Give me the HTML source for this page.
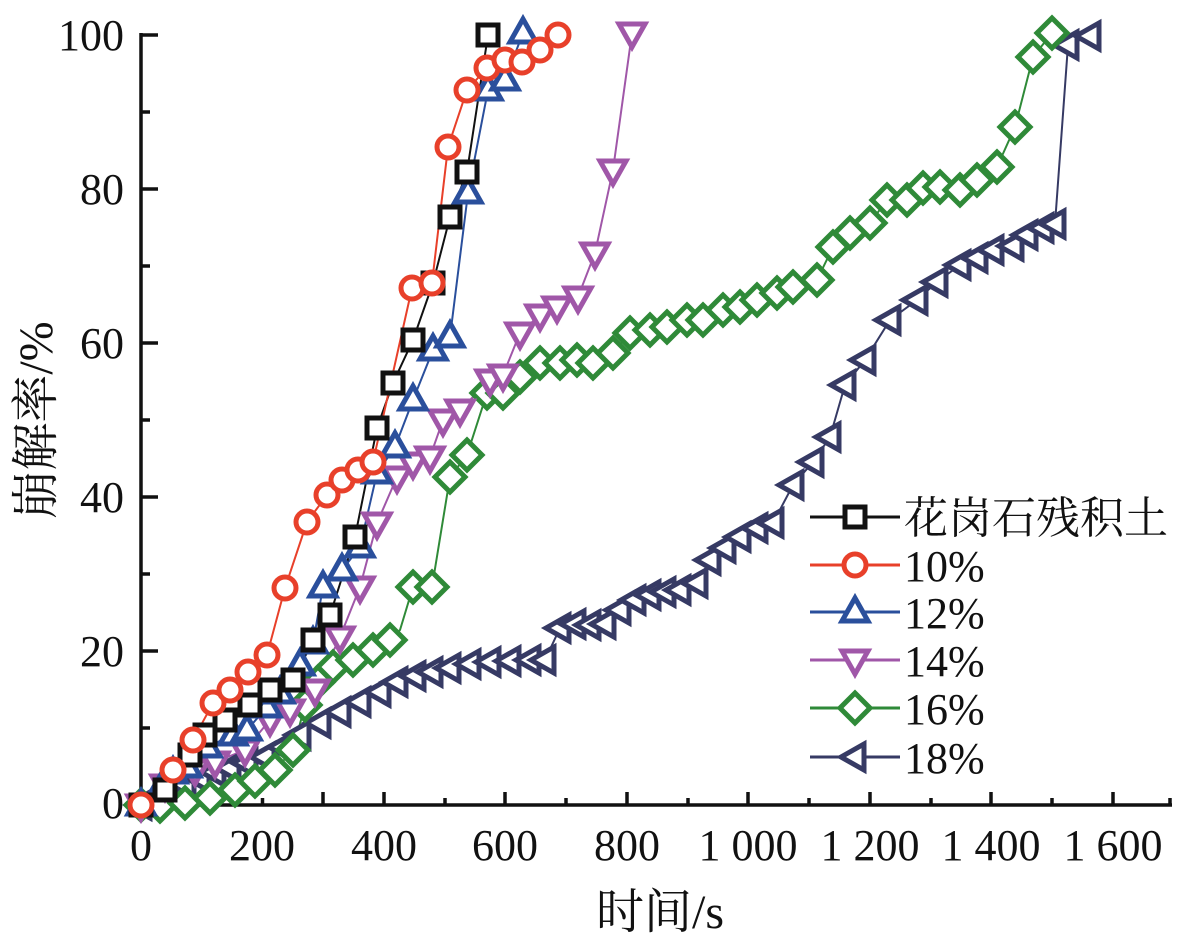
<!DOCTYPE html>
<html><head><meta charset="utf-8"><style>
html,body{margin:0;padding:0;background:#fff;}
svg{display:block;}
text{font-family:"Liberation Serif","Noto Serif CJK SC",serif;fill:#111;}
</style></head><body>
<svg width="1186" height="946" viewBox="0 0 1186 946" xmlns="http://www.w3.org/2000/svg">
<defs>
<g id="sq"><rect x="-10" y="-10" width="20" height="20" fill="#fff" stroke="#111" stroke-width="5"/></g>
<g id="ci"><circle r="11" fill="#fff" stroke="#e8402a" stroke-width="5"/></g>
<g id="tu"><polygon points="0,-14 13,9 -13,9" fill="#fff" stroke="#2a4f9c" stroke-width="5"/></g>
<g id="td"><polygon points="0,14 13,-9 -13,-9" fill="#fff" stroke="#a057a8" stroke-width="5"/></g>
<g id="di"><polygon points="0,-15 15,0 0,15 -15,0" fill="#fff" stroke="#2f8a38" stroke-width="5"/></g>
<g id="tl"><polygon points="-14,0 9,-13 9,13" fill="#fff" stroke="#363a64" stroke-width="5"/></g>
</defs>
<g stroke="#111" stroke-width="3.5" fill="none">
<line x1="141" y1="33" x2="141" y2="807"/>
<line x1="139" y1="805" x2="1172" y2="805"/>
<line x1="141" y1="35" x2="158" y2="35"/>
<line x1="141" y1="112" x2="150" y2="112"/>
<line x1="141" y1="189" x2="158" y2="189"/>
<line x1="141" y1="266" x2="150" y2="266"/>
<line x1="141" y1="343" x2="158" y2="343"/>
<line x1="141" y1="420" x2="150" y2="420"/>
<line x1="141" y1="497" x2="158" y2="497"/>
<line x1="141" y1="574" x2="150" y2="574"/>
<line x1="141" y1="651" x2="158" y2="651"/>
<line x1="141" y1="728" x2="150" y2="728"/>
<line x1="262.5" y1="805" x2="262.5" y2="798"/>
<line x1="384" y1="805" x2="384" y2="792"/>
<line x1="445" y1="805" x2="445" y2="798"/>
<line x1="505" y1="805" x2="505" y2="792"/>
<line x1="566" y1="805" x2="566" y2="798"/>
<line x1="627" y1="805" x2="627" y2="792"/>
<line x1="688" y1="805" x2="688" y2="798"/>
<line x1="748" y1="805" x2="748" y2="792"/>
<line x1="809" y1="805" x2="809" y2="798"/>
<line x1="870" y1="805" x2="870" y2="792"/>
<line x1="931" y1="805" x2="931" y2="798"/>
<line x1="991" y1="805" x2="991" y2="792"/>
<line x1="1052" y1="805" x2="1052" y2="798"/>
<line x1="1113" y1="805" x2="1113" y2="792"/>
<line x1="1170" y1="805" x2="1170" y2="798"/>
<line x1="202" y1="805" x2="202" y2="798"/>
<line x1="323" y1="805" x2="323" y2="792"/>
</g>
<g font-size="44" text-anchor="end">
<text x="124" y="50">100</text>
<text x="124" y="204">80</text>
<text x="124" y="358">60</text>
<text x="124" y="512">40</text>
<text x="124" y="666">20</text>
<text x="124" y="818">0</text>
</g>
<g font-size="44" text-anchor="middle">
<text x="141" y="860">0</text>
<text x="262" y="860">200</text>
<text x="384" y="860">400</text>
<text x="505" y="860">600</text>
<text x="627" y="860">800</text>
<text x="748" y="860">1 000</text>
<text x="870" y="860">1 200</text>
<text x="991" y="860">1 400</text>
<text x="1113" y="860">1 600</text>
</g>
<text x="660" y="928" font-size="48" text-anchor="middle">时间/s</text>
<text transform="translate(52,420) rotate(-90)" font-size="48" text-anchor="middle">崩解率/%</text>

<g fill="none" stroke-width="2">
<polyline stroke="#363a64" points="141,805 155,798 170,790 185,785 200,778 215,772 230,768 247,763 265,757 283,747 300,735 320,723 340,712 360,702 380,692 397,682 415,676 432,672 450,668 470,664 490,662 510,661 530,660 545,660 560,628 575,624 590,625 605,624 620,610 635,600 650,595 665,592 680,590 697,583 710,560 725,548 740,537 757,528 773,523 793,485 813,462 830,437 845,385 865,360 890,320 917,300 937,282 960,265 977,258 993,250 1013,246 1027,235 1043,228 1055,224 1068,45 1090,36"/>
<polyline stroke="#2f8a38" points="141,805 160,806 185,803 210,798 235,790 255,781 275,770 293,750 305,705 318,682 333,667 353,660 373,650 390,640 400,630 413,587 432,587 450,477 467,455 487,393 503,393 520,377 540,363 560,363 577,360 593,363 613,353 630,333 650,330 667,327 687,320 703,320 723,310 740,307 757,300 777,293 793,287 817,280 833,247 850,233 870,223 887,200 907,200 923,188 940,187 960,190 977,180 997,167 1015,127 1033,57 1052,33"/>
<polyline stroke="#a057a8" points="141,805 165,785 195,770 215,762 245,750 270,720 290,710 315,690 340,637 360,587 377,523 397,477 413,463 430,457 443,420 460,410 490,380 503,375 520,333 540,315 557,307 578,297 595,253 613,170 632,33"/>
<polyline stroke="#2a4f9c" points="141,805 160,790 173,773 187,767 207,747 233,735 247,730 267,707 280,693 300,665 313,643 323,587 342,570 360,547 377,473 395,447 413,400 433,350 450,337 468,193 488,90 505,80 523,33"/>
<polyline stroke="#111" points="141,805 165,790 190,755 205,735 225,720 250,705 270,690 293,680 313,640 330,615 355,537 377,428 393,383 413,340 433,283 450,217 467,172 488,35"/>
<polyline stroke="#e8402a" points="141,805 173,770 193,740 213,703 230,690 248,672 267,655 285,588 307,522 327,495 342,480 358,470 373,462 412,288 432,283 448,147 467,90 487,68 505,60 522,62 540,50 558,35"/>
</g>

<g>
<use href="#tl" x="141" y="805"/><use href="#tl" x="155" y="798"/><use href="#tl" x="170" y="790"/><use href="#tl" x="185" y="785"/><use href="#tl" x="200" y="778"/><use href="#tl" x="215" y="772"/><use href="#tl" x="230" y="768"/><use href="#tl" x="247" y="763"/><use href="#tl" x="265" y="757"/><use href="#tl" x="283" y="747"/><use href="#tl" x="300" y="735"/><use href="#tl" x="320" y="723"/><use href="#tl" x="340" y="712"/><use href="#tl" x="360" y="702"/><use href="#tl" x="380" y="692"/><use href="#tl" x="397" y="682"/><use href="#tl" x="415" y="676"/><use href="#tl" x="432" y="672"/><use href="#tl" x="450" y="668"/><use href="#tl" x="470" y="664"/><use href="#tl" x="490" y="662"/><use href="#tl" x="510" y="661"/><use href="#tl" x="530" y="660"/><use href="#tl" x="545" y="660"/><use href="#tl" x="560" y="628"/><use href="#tl" x="575" y="624"/><use href="#tl" x="590" y="625"/><use href="#tl" x="605" y="624"/><use href="#tl" x="620" y="610"/><use href="#tl" x="635" y="600"/><use href="#tl" x="650" y="595"/><use href="#tl" x="665" y="592"/><use href="#tl" x="680" y="590"/><use href="#tl" x="697" y="583"/><use href="#tl" x="710" y="560"/><use href="#tl" x="725" y="548"/><use href="#tl" x="740" y="537"/><use href="#tl" x="757" y="528"/><use href="#tl" x="773" y="523"/><use href="#tl" x="793" y="485"/><use href="#tl" x="813" y="462"/><use href="#tl" x="830" y="437"/><use href="#tl" x="845" y="385"/><use href="#tl" x="865" y="360"/><use href="#tl" x="890" y="320"/><use href="#tl" x="917" y="300"/><use href="#tl" x="937" y="282"/><use href="#tl" x="960" y="265"/><use href="#tl" x="977" y="258"/><use href="#tl" x="993" y="250"/><use href="#tl" x="1013" y="246"/><use href="#tl" x="1027" y="235"/><use href="#tl" x="1043" y="228"/><use href="#tl" x="1055" y="224"/><use href="#tl" x="1068" y="45"/><use href="#tl" x="1090" y="36"/>
</g>
<g>
<use href="#di" x="141" y="805"/><use href="#di" x="160" y="806"/><use href="#di" x="185" y="803"/><use href="#di" x="210" y="798"/><use href="#di" x="235" y="790"/><use href="#di" x="255" y="781"/><use href="#di" x="275" y="770"/><use href="#di" x="293" y="750"/><use href="#di" x="305" y="705"/><use href="#di" x="318" y="682"/><use href="#di" x="333" y="667"/><use href="#di" x="353" y="660"/><use href="#di" x="373" y="650"/><use href="#di" x="390" y="640"/><use href="#di" x="413" y="587"/><use href="#di" x="432" y="587"/><use href="#di" x="450" y="477"/><use href="#di" x="467" y="455"/><use href="#di" x="487" y="393"/><use href="#di" x="503" y="393"/><use href="#di" x="520" y="377"/><use href="#di" x="540" y="363"/><use href="#di" x="560" y="363"/><use href="#di" x="577" y="360"/><use href="#di" x="593" y="363"/><use href="#di" x="613" y="353"/><use href="#di" x="630" y="333"/><use href="#di" x="650" y="330"/><use href="#di" x="667" y="327"/><use href="#di" x="687" y="320"/><use href="#di" x="703" y="320"/><use href="#di" x="723" y="310"/><use href="#di" x="740" y="307"/><use href="#di" x="757" y="300"/><use href="#di" x="777" y="293"/><use href="#di" x="793" y="287"/><use href="#di" x="817" y="280"/><use href="#di" x="833" y="247"/><use href="#di" x="850" y="233"/><use href="#di" x="870" y="223"/><use href="#di" x="887" y="200"/><use href="#di" x="907" y="200"/><use href="#di" x="923" y="188"/><use href="#di" x="940" y="187"/><use href="#di" x="960" y="190"/><use href="#di" x="977" y="180"/><use href="#di" x="997" y="167"/><use href="#di" x="1015" y="127"/><use href="#di" x="1033" y="57"/><use href="#di" x="1052" y="33"/>
</g>
<g>
<use href="#td" x="141" y="805"/><use href="#td" x="165" y="785"/><use href="#td" x="195" y="770"/><use href="#td" x="215" y="762"/><use href="#td" x="245" y="750"/><use href="#td" x="270" y="720"/><use href="#td" x="290" y="710"/><use href="#td" x="315" y="690"/><use href="#td" x="340" y="637"/><use href="#td" x="360" y="587"/><use href="#td" x="377" y="523"/><use href="#td" x="397" y="477"/><use href="#td" x="413" y="463"/><use href="#td" x="430" y="457"/><use href="#td" x="443" y="420"/><use href="#td" x="460" y="410"/><use href="#td" x="490" y="380"/><use href="#td" x="503" y="375"/><use href="#td" x="520" y="333"/><use href="#td" x="540" y="315"/><use href="#td" x="557" y="307"/><use href="#td" x="578" y="297"/><use href="#td" x="595" y="253"/><use href="#td" x="613" y="170"/><use href="#td" x="632" y="33"/>
</g>
<g>
<use href="#tu" x="141" y="805"/><use href="#tu" x="160" y="790"/><use href="#tu" x="173" y="773"/><use href="#tu" x="187" y="767"/><use href="#tu" x="207" y="747"/><use href="#tu" x="233" y="735"/><use href="#tu" x="247" y="730"/><use href="#tu" x="267" y="707"/><use href="#tu" x="280" y="693"/><use href="#tu" x="300" y="665"/><use href="#tu" x="313" y="643"/><use href="#tu" x="323" y="587"/><use href="#tu" x="342" y="570"/><use href="#tu" x="360" y="547"/><use href="#tu" x="377" y="473"/><use href="#tu" x="395" y="447"/><use href="#tu" x="413" y="400"/><use href="#tu" x="433" y="350"/><use href="#tu" x="450" y="337"/><use href="#tu" x="468" y="193"/><use href="#tu" x="488" y="90"/><use href="#tu" x="505" y="80"/><use href="#tu" x="523" y="33"/>
</g>
<g>
<use href="#sq" x="141" y="805"/><use href="#sq" x="165" y="790"/><use href="#sq" x="190" y="755"/><use href="#sq" x="205" y="735"/><use href="#sq" x="225" y="720"/><use href="#sq" x="250" y="705"/><use href="#sq" x="270" y="690"/><use href="#sq" x="293" y="680"/><use href="#sq" x="313" y="640"/><use href="#sq" x="330" y="615"/><use href="#sq" x="355" y="537"/><use href="#sq" x="377" y="428"/><use href="#sq" x="393" y="383"/><use href="#sq" x="413" y="340"/><use href="#sq" x="433" y="283"/><use href="#sq" x="450" y="217"/><use href="#sq" x="467" y="172"/><use href="#sq" x="488" y="35"/>
</g>
<g>
<use href="#ci" x="141" y="805"/><use href="#ci" x="173" y="770"/><use href="#ci" x="193" y="740"/><use href="#ci" x="213" y="703"/><use href="#ci" x="230" y="690"/><use href="#ci" x="248" y="672"/><use href="#ci" x="267" y="655"/><use href="#ci" x="285" y="588"/><use href="#ci" x="307" y="522"/><use href="#ci" x="327" y="495"/><use href="#ci" x="342" y="480"/><use href="#ci" x="358" y="470"/><use href="#ci" x="373" y="462"/><use href="#ci" x="412" y="288"/><use href="#ci" x="432" y="283"/><use href="#ci" x="448" y="147"/><use href="#ci" x="467" y="90"/><use href="#ci" x="487" y="68"/><use href="#ci" x="505" y="60"/><use href="#ci" x="522" y="62"/><use href="#ci" x="540" y="50"/><use href="#ci" x="558" y="35"/>
</g>

<g stroke-width="3">
<line x1="810" y1="517" x2="900" y2="517" stroke="#111"/><use href="#sq" x="855" y="517"/>
<line x1="810" y1="565" x2="900" y2="565" stroke="#e8402a"/><use href="#ci" x="855" y="565"/>
<line x1="810" y1="612" x2="900" y2="612" stroke="#2a4f9c"/><use href="#tu" x="855" y="612"/>
<line x1="810" y1="660" x2="900" y2="660" stroke="#a057a8"/><use href="#td" x="855" y="660"/>
<line x1="810" y1="708" x2="900" y2="708" stroke="#2f8a38"/><use href="#di" x="855" y="708"/>
<line x1="810" y1="757" x2="900" y2="757" stroke="#363a64"/><use href="#tl" x="855" y="757"/>
</g>
<g font-size="44">
<text x="904" y="533">花岗石残积土</text>
<text x="904" y="581">10%</text>
<text x="904" y="628">12%</text>
<text x="904" y="676">14%</text>
<text x="904" y="724">16%</text>
<text x="904" y="773">18%</text>
</g>
</svg>
</body></html>
